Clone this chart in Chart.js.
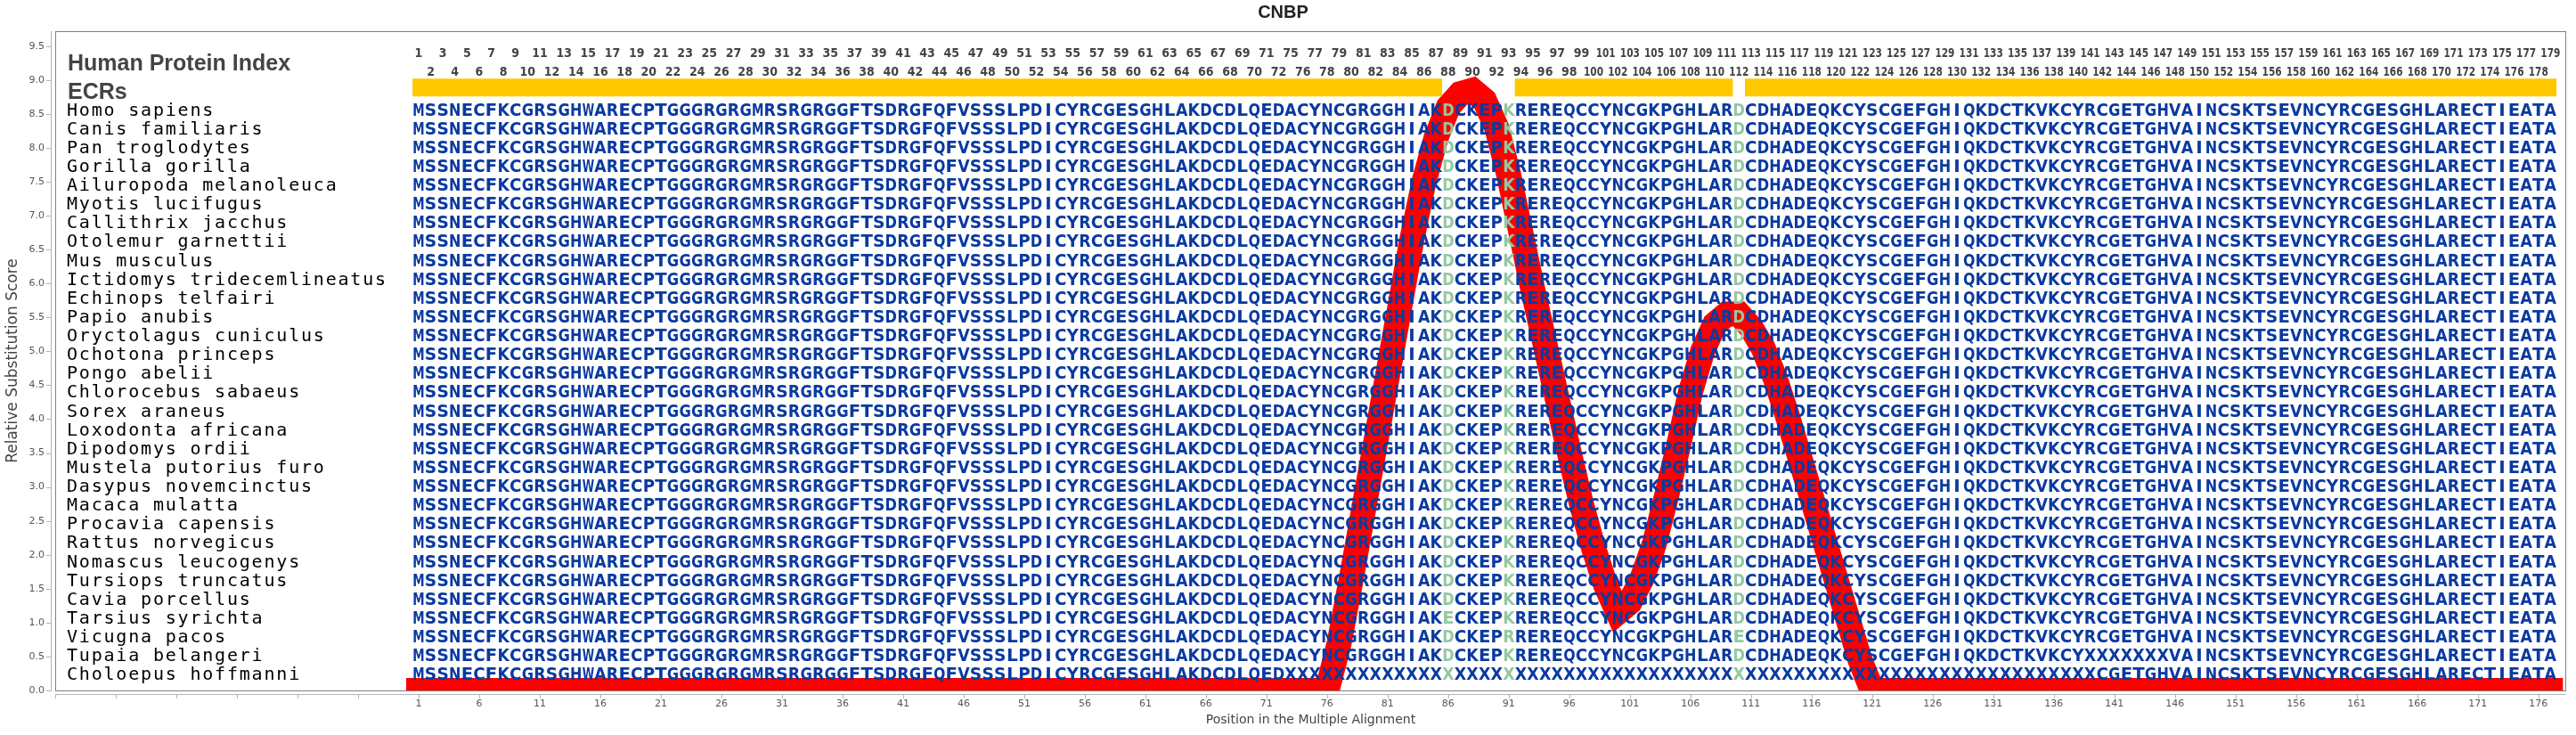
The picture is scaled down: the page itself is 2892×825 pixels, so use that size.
<!DOCTYPE html>
<html>
<head>
<meta charset="utf-8">
<title>CNBP</title>
<script src="https://cdn.jsdelivr.net/npm/chart.js@4.4.0/dist/chart.umd.min.js"></script>
<style>
  html, body { margin: 0; padding: 0; background: #fff; overflow: hidden; }
</style>
</head>
<body>
<canvas id="cnbpChart" width="2892" height="825"></canvas>
<script>
// species shown in the alignment, top to bottom
const speciesNames = [
  "Homo sapiens", "Canis familiaris", "Pan troglodytes", "Gorilla gorilla",
  "Ailuropoda melanoleuca", "Myotis lucifugus", "Callithrix jacchus", "Otolemur garnettii",
  "Mus musculus", "Ictidomys tridecemlineatus", "Echinops telfairi", "Papio anubis",
  "Oryctolagus cuniculus", "Ochotona princeps", "Pongo abelii", "Chlorocebus sabaeus",
  "Sorex araneus", "Loxodonta africana", "Dipodomys ordii", "Mustela putorius furo",
  "Dasypus novemcinctus", "Macaca mulatta", "Procavia capensis", "Rattus norvegicus",
  "Nomascus leucogenys", "Tursiops truncatus", "Cavia porcellus", "Tarsius syrichta",
  "Vicugna pacos", "Tupaia belangeri", "Choloepus hoffmanni"
];

const humanSeq = "MSSNECFKCGRSGHWARECPTGGGRGRGMRSRGRGGFTSDRGFQFVSSSLPDICYRCGESGHLAKDCDLQEDACYNCGRGGHIAKDCKEPKREREQCCYNCGKPGHLARDCDHADEQKCYSCGEFGHIQKDCTKVKCYRCGETGHVAINCSKTSEVNCYRCGESGHLARECTIEATA";
const tarsiusSeq = "MSSNECFKCGRSGHWARECPTGGGRGRGMRSRGRGGFTSDRGFQFVSSSLPDICYRCGESGHLAKDCDLQEDACYNCGRGGHIAKECKEPKREREQCCYNCGKPGHLARDCDHADEQKCYSCGEFGHIQKDCTKVKCYRCGETGHVAINCSKTSEVNCYRCGESGHLARECTIEATA";
const vicugnaSeq = "MSSNECFKCGRSGHWARECPTGGGRGRGMRSRGRGGFTSDRGFQFVSSSLPDICYRCGESGHLAKDCDLQEDACYNCGRGGHIAKDCKEPRREREQCCYNCGKPGHLARECDHADEQKCYSCGEFGHIQKDCTKVKCYRCGETGHVAINCSKTSEVNCYRCGESGHLARECTIEATA";
const tupaiaSeq = "MSSNECFKCGRSGHWARECPTGGGRGRGMRSRGRGGFTSDRGFQFVSSSLPDICYRCGESGHLAKDCDLQEDACYNCGRGGHIAKDCKEPKREREQCCYNCGKPGHLARDCDHADEQKCYSCGEFGHIQKDCTKVKCYXXXXXXXVAINCSKTSEVNCYRCGESGHLARECTIEATA";
const choloepusSeq = [
  "MSSNECFKCG", "RSGHWARECP", "TGGGRGRGMR", "SRGRGGFTSD", "RGFQFVSSSL", "PDICYRCGES",
  "GHLAKDCDLQ", "EDXXXXXXXX", "XXXXXXXXXX", "XXXXXXXXXX", "XXXXXXXXXX", "XXXXXXXXXX",
  "XXXXXXXXXX", "XXXXXXXXXC", "GETGHVAINC", "SKTSEVNCYR", "CGESGHLARE", "CTIEATA"
].join("");

const sequences = [
  humanSeq, humanSeq, humanSeq, humanSeq, humanSeq, humanSeq, humanSeq, humanSeq,
  humanSeq, humanSeq, humanSeq, humanSeq, humanSeq, humanSeq, humanSeq, humanSeq,
  humanSeq, humanSeq, humanSeq, humanSeq, humanSeq, humanSeq, humanSeq, humanSeq,
  humanSeq, humanSeq, humanSeq, tarsiusSeq, vicugnaSeq, tupaiaSeq, choloepusSeq
];

// human protein index printed above each alignment column
const humanIndex = [
  1, 2, 3, 4, 5, 6, 7, 8, 9, 10, 11, 12, 13, 14, 15, 16, 17, 18, 19, 20,
  21, 22, 23, 24, 25, 26, 27, 28, 29, 30, 31, 32, 33, 34, 35, 36, 37, 38, 39, 40,
  41, 42, 43, 44, 45, 46, 47, 48, 49, 50, 51, 52, 53, 54, 55, 56, 57, 58, 59, 60,
  61, 62, 63, 64, 65, 66, 67, 68, 69, 70, 71, 72, 75, 76, 77, 78, 79, 80, 81, 82,
  83, 84, 85, 86, 87, 88, 89, 90, 91, 92, 93, 94, 95, 96, 97, 98, 99, 100, 101, 102,
  103, 104, 105, 106, 107, 108, 109, 110, 111, 112, 113, 114, 115, 116, 117, 118, 119, 120, 121, 122,
  123, 124, 125, 126, 127, 128, 129, 130, 131, 132, 133, 134, 135, 136, 137, 138, 139, 140, 141, 142,
  143, 144, 145, 146, 147, 148, 149, 150, 151, 152, 153, 154, 155, 156, 157, 158, 159, 160, 161, 162,
  163, 164, 165, 166, 167, 168, 169, 170, 171, 172, 173, 174, 175, 176, 177, 178, 179
];

// columns with substitutions (drawn in green)
const variableColumns = [86, 91, 110];

// evolutionarily conserved regions (alignment positions)
const ecrStart = [1, 92, 111];
const ecrEnd = [85, 109, 177];

// relative substitution score, alignment positions 1..177
const substitutionScore = [
  0, 0, 0, 0, 0, 0, 0, 0, 0, 0,
  0, 0, 0, 0, 0, 0, 0, 0, 0, 0,
  0, 0, 0, 0, 0, 0, 0, 0, 0, 0,
  0, 0, 0, 0, 0, 0, 0, 0, 0, 0,
  0, 0, 0, 0, 0, 0, 0, 0, 0, 0,
  0, 0, 0, 0, 0, 0, 0, 0, 0, 0,
  0, 0, 0, 0, 0, 0, 0, 0, 0, 0,
  0, 0, 0, 0, 0, 0, 0.7, 1.65, 2.65, 3.65,
  4.65, 5.65, 6.65, 7.5, 8.15, 8.6, 8.8, 8.85, 8.7, 8.3,
  7.6, 6.75, 5.9, 5.1, 4.3, 3.5, 2.75, 2.1, 1.55, 1.15,
  1.3, 1.65, 2.15, 2.85, 3.6, 4.4, 5.0, 5.4, 5.55, 5.55,
  5.35, 5.05, 4.6, 4.05, 3.45, 2.85, 2.25, 1.65, 1.05, 0.45,
  0, 0, 0, 0, 0, 0, 0, 0, 0, 0,
  0, 0, 0, 0, 0, 0, 0, 0, 0, 0,
  0, 0, 0, 0, 0, 0, 0, 0, 0, 0,
  0, 0, 0, 0, 0, 0, 0, 0, 0, 0,
  0, 0, 0, 0, 0, 0, 0, 0, 0, 0,
  0, 0, 0, 0, 0, 0, 0
];

// x axis tick values (labels only from 1 on)
const xTickValues = [
  -29, -24, -19, -14, -9, -4, 1, 6, 11, 16, 21, 26, 31, 36, 41, 46, 51, 56, 61, 66, 71,
  76, 81, 86, 91, 96, 101, 106, 111, 116, 121, 126, 131, 136, 141, 146, 151, 156, 161,
  166, 171, 176
];

// row layout in y units
const INDEX_ROW_ODD = 9.40;
const INDEX_ROW_EVEN = 9.13;
const HEADER_ROW = 9.26;
const ECR_ROW = 8.89;
const ECR_LABEL_ROW = 8.84;
const FIRST_ROW = 8.57;
const ROW_STEP = 0.2775;

const rowValue = (r) => FIRST_ROW - r * ROW_STEP;

const scorePoints = substitutionScore.map((v, i) => ({ x: i + 1, y: v }));

const ecrPoints = [];
ecrStart.forEach((s, i) => {
  ecrPoints.push({ x: s - 0.5, y: ECR_ROW });
  ecrPoints.push({ x: ecrEnd[i] + 0.5, y: ECR_ROW });
  ecrPoints.push({ x: ecrEnd[i] + 0.5, y: null });
});

const alignmentPlugin = {
  id: "alignment",
  beforeDraw(chart) {
    const ctx = chart.ctx;
    ctx.save();
    ctx.fillStyle = "#ffffff";
    ctx.fillRect(0, 0, chart.width, chart.height);
    ctx.restore();
  },
  afterDatasetsDraw(chart) {
    const { ctx, chartArea, scales } = chart;
    const x = scales.x;
    const y = scales.y;
    const labelX = chartArea.left + 14;
    ctx.save();

    // header labels
    ctx.fillStyle = "#444444";
    ctx.textAlign = "left";
    ctx.textBaseline = "alphabetic";
    ctx.font = 'bold 25px "Liberation Sans", Arial, sans-serif';
    ctx.fillText("Human Protein Index", labelX, y.getPixelForValue(HEADER_ROW) + 9);
    ctx.fillText("ECRs", labelX, y.getPixelForValue(ECR_LABEL_ROW) + 9);

    // human protein index, alternating rows
    ctx.font = 'bold 14px "Liberation Sans Narrow", "DejaVu Sans Condensed", "Liberation Sans", Arial';
    ctx.textAlign = "center";
    humanIndex.forEach((n, i) => {
      const pos = i + 1;
      const row = pos % 2 === 1 ? INDEX_ROW_ODD : INDEX_ROW_EVEN;
      ctx.fillText(String(n), x.getPixelForValue(pos), y.getPixelForValue(row) + 5, 22);
    });

    // species names
    ctx.fillStyle = "#000000";
    ctx.textAlign = "left";
    ctx.font = '20px "DejaVu Sans Mono", monospace';
    ctx.letterSpacing = "1.8px";
    speciesNames.forEach((name, r) => {
      ctx.fillText(name, labelX - 1, y.getPixelForValue(rowValue(r)) + 7);
    });
    ctx.letterSpacing = "0px";

    // residues
    ctx.textAlign = "center";
    ctx.font = 'bold 20px "DejaVu Sans", sans-serif';
    sequences.forEach((seq, r) => {
      const py = y.getPixelForValue(rowValue(r)) + 7;
      for (let i = 0; i < seq.length; i++) {
        const pos = i + 1;
        ctx.fillStyle = variableColumns.includes(pos) ? "#94c8a2" : "#0a3aa0";
        ctx.fillText(seq[i], x.getPixelForValue(pos), py, 13.4);
      }
    });
    ctx.restore();
  },
  afterDraw(chart) {
    const { ctx, chartArea, scales } = chart;
    const { left, right, top, bottom } = chartArea;
    ctx.save();
    // plot outline
    ctx.strokeStyle = "#808080";
    ctx.lineWidth = 1;
    ctx.strokeRect(left + 0.5, top + 0.5, right - left - 1, bottom - top);

    // offset axis lines and tick marks
    ctx.strokeStyle = "#b4b4b4";
    ctx.beginPath();
    ctx.moveTo(left - 4.5, top);
    ctx.lineTo(left - 4.5, bottom + 1);
    ctx.moveTo(left, bottom + 4.5);
    ctx.lineTo(right, bottom + 4.5);
    scales.y.ticks.forEach((t) => {
      const py = Math.round(scales.y.getPixelForValue(t.value)) + 0.5;
      ctx.moveTo(left - 10, py);
      ctx.lineTo(left - 4.5, py);
    });
    scales.x.ticks.forEach((t) => {
      const px = Math.round(scales.x.getPixelForValue(t.value)) + 0.5;
      ctx.moveTo(px, bottom + 4.5);
      ctx.lineTo(px, bottom + 9);
    });
    ctx.stroke();
    ctx.restore();
  }
};

const ctx = document.getElementById("cnbpChart").getContext("2d");

const chart = new Chart(ctx, {
  type: "line",
  data: {
    datasets: [
      {
        label: "ECRs",
        data: ecrPoints,
        borderColor: "#ffc800",
        borderWidth: 20,
        borderCapStyle: "butt",
        pointRadius: 0,
        spanGaps: false,
        clip: false,
      },
      {
        label: "Relative Substitution Score",
        data: scorePoints,
        borderColor: "#ff0000",
        borderWidth: 28,
        borderCapStyle: "square",
        borderJoinStyle: "miter",
        pointRadius: 0,
        tension: 0,
        clip: 0,
      },
    ],
  },
  options: {
    responsive: false,
    animation: false,
    devicePixelRatio: 1,
    layout: {
      padding: { left: 0, right: 11, top: 0, bottom: 0 },
    },
    plugins: {
      legend: { display: false },
      tooltip: { enabled: false },
      title: {
        display: true,
        text: "CNBP",
        color: "#222222",
        font: { family: '"Liberation Sans", Arial, sans-serif', size: 20, weight: "bold" },
        padding: { top: 2, bottom: 9 },
      },
    },
    scales: {
      x: {
        type: "linear",
        min: -29,
        max: 178.3,
        grid: { display: false, drawTicks: false },
        border: { display: false },
        afterBuildTicks: (scale) => {
          scale.ticks = xTickValues.map((v) => ({ value: v }));
        },
        afterFit: (scale) => {
          scale.height = 50;
        },
        ticks: {
          autoSkip: false,
          maxRotation: 0,
          padding: 9,
          color: "#555555",
          font: { family: '"DejaVu Sans", sans-serif', size: 11 },
          callback: (value) => (value >= 1 ? String(value) : ""),
        },
        title: {
          display: true,
          text: "Position in the Multiple Alignment",
          color: "#444444",
          font: { family: '"DejaVu Sans", sans-serif', size: 14 },
          padding: { top: 0, bottom: 8 },
        },
      },
      y: {
        min: 0,
        max: 9.72,
        grid: { display: false, drawTicks: false },
        border: { display: false },
        afterFit: (scale) => {
          scale.width = 62;
        },
        ticks: {
          stepSize: 0.5,
          includeBounds: false,
          padding: 12,
          color: "#555555",
          font: { family: '"DejaVu Sans", sans-serif', size: 11 },
          callback: (value) => value.toFixed(1),
        },
        title: {
          display: true,
          text: "Relative Substitution Score",
          color: "#444444",
          font: { family: '"DejaVu Sans", sans-serif', size: 17 },
          padding: { top: 4, bottom: 0 },
        },
      },
    },
  },
  plugins: [alignmentPlugin],
});
</script>
</body>
</html>
